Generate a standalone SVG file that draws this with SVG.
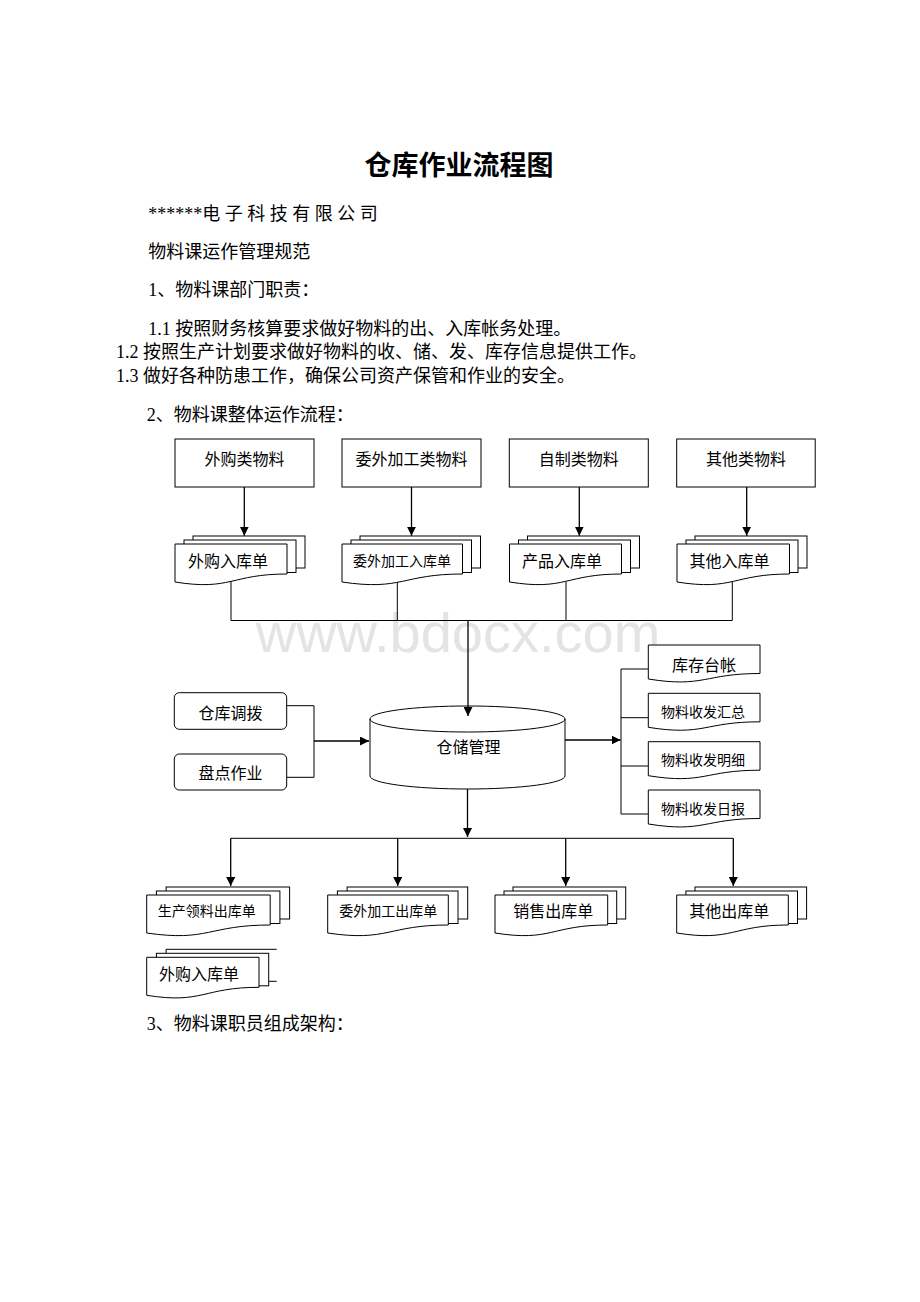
<svg xmlns="http://www.w3.org/2000/svg" width="920" height="1302" viewBox="0 0 920 1302">
<style>
.t{font-family:"Liberation Serif","Noto Sans CJK SC",serif;fill:#000}
.c{text-anchor:middle}
.ln{stroke:#000;stroke-width:1;fill:none}
.ar{stroke:#000;stroke-width:1.3;fill:none;marker-end:url(#ah)}
.sh{fill:#fff;stroke:#000;stroke-width:1}
.bk{fill:none;stroke:#000;stroke-width:1}
</style>
<defs>
<marker id="ah" markerUnits="userSpaceOnUse" markerWidth="9" markerHeight="9" viewBox="0 0 9 9" refX="9" refY="4.5" orient="auto">
<path d="M0,0 L9,4.5 L0,9 z" fill="#000"/>
</marker>
</defs>
<rect x="0" y="0" width="920" height="1302" fill="#fff"/>
<text x="458" y="652" font-family="Liberation Sans, Arial, sans-serif" font-size="56" fill="#e4e4e4" text-anchor="middle">www.bdocx.com</text>

<g id="page-text">
<text x="459" y="175" font-family="Noto Sans CJK SC, sans-serif" font-size="27" font-weight="bold" text-anchor="middle" fill="#000">仓库作业流程图</text>
<text class="t" x="148.3" y="220" font-size="18">******电 子 科 技 有 限 公 司</text>
<text class="t" x="148.3" y="258" font-size="18">物料课运作管理规范</text>
<text class="t" x="148.3" y="296" font-size="18">1、物料课部门职责：</text>
<text class="t" x="148.3" y="334.5" font-size="18">1.1 按照财务核算要求做好物料的出、入库帐务处理。</text>
<text class="t" x="116" y="358" font-size="18">1.2 按照生产计划要求做好物料的收、储、发、库存信息提供工作。</text>
<text class="t" x="116" y="381.5" font-size="18">1.3 做好各种防患工作，确保公司资产保管和作业的安全。</text>
<text class="t" x="146.7" y="421" font-size="18">2、物料课整体运作流程：</text>
<text class="t" x="146.7" y="1030" font-size="18">3、物料课职员组成架构：</text>
</g>

<g id="src-waigou">
<rect class="sh" x="175" y="439" width="139" height="48"/>
<text class="t c" x="244.5" y="465" font-size="16">外购类物料</text>
</g>
<g id="src-weiwai">
<rect class="sh" x="342" y="439" width="139" height="48"/>
<text class="t c" x="411.5" y="465" font-size="16">委外加工类物料</text>
</g>
<g id="src-zizhi">
<rect class="sh" x="509.3" y="439" width="139" height="48"/>
<text class="t c" x="578.8" y="465" font-size="16">自制类物料</text>
</g>
<g id="src-qita">
<rect class="sh" x="676.7" y="439" width="138.5" height="48"/>
<text class="t c" x="746" y="465" font-size="16">其他类物料</text>
</g>

<g id="doc-waigou-in">
<rect class="sh" x="193" y="536" width="112" height="32"/>
<rect class="sh" x="184" y="540" width="112" height="32.5"/>
<path class="sh" d="M175,544 H287 V574 C231,574 231,591 175,582 Z"/>
<text class="t c" x="228" y="567" font-size="16">外购入库单</text>
</g>
<g id="doc-weiwai-in">
<rect class="sh" x="360" y="536" width="120.5" height="32"/>
<rect class="sh" x="351" y="540" width="120.5" height="32.5"/>
<path class="sh" d="M342,544 H462.5 V574 C402.25,574 402.25,591 342,582 Z"/>
<text class="t c" x="402" y="566" font-size="14">委外加工入库单</text>
</g>
<g id="doc-chanpin-in">
<rect class="sh" x="527.5" y="536" width="112" height="32"/>
<rect class="sh" x="518.5" y="540" width="112" height="32.5"/>
<path class="sh" d="M509.5,544 H621.5 V574 C565.5,574 565.5,591 509.5,582 Z"/>
<text class="t c" x="562" y="567" font-size="16">产品入库单</text>
</g>
<g id="doc-qita-in">
<rect class="sh" x="695" y="536" width="112" height="32"/>
<rect class="sh" x="686" y="540" width="112" height="32.5"/>
<path class="sh" d="M677,544 H789.5 V574 C733.25,574 733.25,591 677,582 Z"/>
<text class="t c" x="729.5" y="567" font-size="16">其他入库单</text>
</g>

<g id="cylinder-cangchu">
<path class="sh" d="M370,719 A97.5,13 0 0 1 565,719 V776 A97.5,13 0 0 1 370,776 Z"/>
<path class="bk" d="M370,719 A97.5,13 0 0 0 565,719"/>
<text class="t c" x="468.5" y="753" font-size="16">仓储管理</text>
</g>

<g id="box-diaobo">
<rect class="sh" x="174.3" y="692.7" width="112.4" height="36.6" rx="5"/>
<text class="t c" x="230.5" y="718.5" font-size="16">仓库调拨</text>
</g>
<g id="box-pandian">
<rect class="sh" x="174.3" y="754" width="112.4" height="36" rx="5"/>
<text class="t c" x="230.5" y="779" font-size="16">盘点作业</text>
</g>

<g id="rep-taizhang">
<path class="sh" d="M648.3,645 H760 V673.5 C704.15,673.5 704.15,688 648.3,679 Z"/>
<text class="t c" x="704" y="671" font-size="16">库存台帐</text>
</g>
<g id="rep-huizong">
<path class="sh" d="M648.3,693.3 H760 V721.8 C704.15,721.8 704.15,736.3 648.3,727.3 Z"/>
<text class="t c" x="703" y="717" font-size="14">物料收发汇总</text>
</g>
<g id="rep-mingxi">
<path class="sh" d="M648.3,741.7 H760 V770.2 C704.15,770.2 704.15,784.7 648.3,775.7 Z"/>
<text class="t c" x="703" y="765.3" font-size="14">物料收发明细</text>
</g>
<g id="rep-ribao">
<path class="sh" d="M648.3,790 H760 V818.5 C704.15,818.5 704.15,833 648.3,824 Z"/>
<text class="t c" x="703" y="813.6" font-size="14">物料收发日报</text>
</g>

<g id="doc-shengchan-out">
<rect class="sh" x="166.1" y="887" width="123.5" height="32"/>
<rect class="sh" x="156.4" y="891" width="123.5" height="32.5"/>
<path class="sh" d="M146.7,895 H270.2 V925 C208.45,925 208.45,942 146.7,933 Z"/>
<text class="t c" x="206.7" y="916" font-size="14">生产领料出库单</text>
</g>
<g id="doc-weiwai-out">
<rect class="sh" x="347.1" y="887" width="120.6" height="32"/>
<rect class="sh" x="337.4" y="891" width="120.6" height="32.5"/>
<path class="sh" d="M327.7,895 H448.3 V925 C388,925 388,942 327.7,933 Z"/>
<text class="t c" x="388.3" y="916" font-size="14">委外加工出库单</text>
</g>
<g id="doc-xiaoshou-out">
<rect class="sh" x="513" y="887" width="112.7" height="32"/>
<rect class="sh" x="504" y="891" width="112.7" height="32.5"/>
<path class="sh" d="M495,895 H607.7 V925 C551.35,925 551.35,942 495,933 Z"/>
<text class="t c" x="553.3" y="916.5" font-size="16">销售出库单</text>
</g>
<g id="doc-qita-out">
<rect class="sh" x="695" y="887" width="111.6" height="32"/>
<rect class="sh" x="685.9" y="891" width="111.6" height="32.5"/>
<path class="sh" d="M676.7,895 H788.3 V925 C732.5,925 732.5,942 676.7,933 Z"/>
<text class="t c" x="729.3" y="916.5" font-size="16">其他出库单</text>
</g>
<g id="doc-waigou-in-2">
<path class="bk" d="M166.1,953.3 V949.3 H276.7 M268.7,981.3 H276.7"/>
<rect class="sh" x="156.4" y="953.3" width="112.3" height="32.5"/>
<path class="sh" d="M146.7,957.3 H259 V987.3 C202.85,987.3 202.85,1004.3 146.7,995.3 Z"/>
<text class="t c" x="199" y="980" font-size="16">外购入库单</text>
</g>

<g id="connectors">
<path class="ar" d="M244.3,487 V535.7"/>
<path class="ar" d="M411.5,487 V535.7"/>
<path class="ar" d="M579.3,487 V535.7"/>
<path class="ar" d="M746.7,487 V535.7"/>
<path class="ln" d="M231,581.5 V620.5 M397.3,582 V620.5 M566,581.5 V620.5 M732.3,581.5 V620.5 M231,620.5 H732.3"/>
<path class="ar" d="M468,620.5 V716"/>
<path class="ln" d="M286.7,705.7 H314 V777.3 H286.7"/>
<path class="ar" d="M314,741 H369"/>
<path class="ar" d="M565,740 H620.5"/>
<path class="ln" d="M621,669 V814 M621,669 H648.3 M621,717.7 H648.3 M621,766 H648.3 M621,814 H648.3"/>
<path class="ar" d="M467.5,789 V837"/>
<path class="ln" d="M230.7,838.3 H733.3"/>
<path class="ar" d="M230.7,838.3 V886"/>
<path class="ar" d="M397.7,838.3 V886"/>
<path class="ar" d="M565.7,838.3 V886"/>
<path class="ar" d="M733.3,838.3 V886"/>
</g>
</svg>
